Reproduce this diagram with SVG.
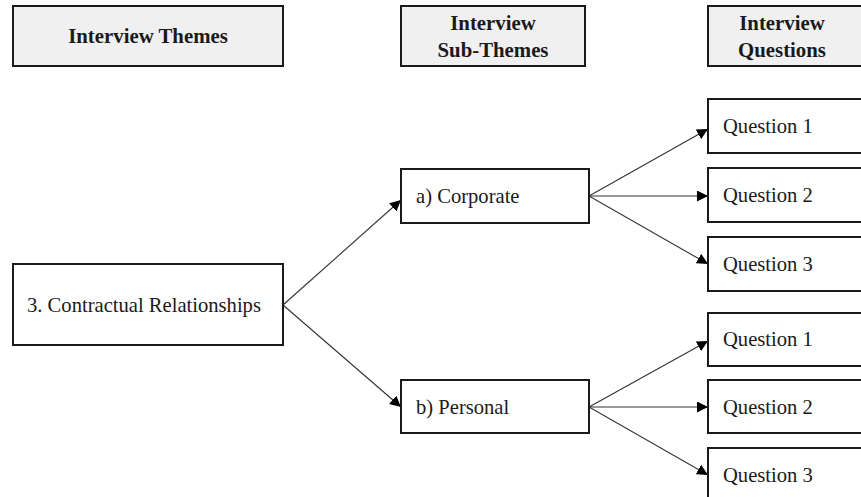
<svg xmlns="http://www.w3.org/2000/svg" width="861" height="497" viewBox="0 0 861 497">
  <style>
    .hdr rect { fill: #f0f0f0; stroke: #1a1a1a; stroke-width: 2; }
    .hdr text { font-family: "Liberation Serif", "Times New Roman", serif; font-weight: bold; font-size: 20.8px; fill: #1a1a1a; text-anchor: middle; }
    .node rect { fill: #ffffff; stroke: #1a1a1a; stroke-width: 2; }
    .node text { font-family: "Liberation Serif", "Times New Roman", serif; font-size: 20.6px; fill: #1a1a1a; }
    .edge { stroke: #333333; stroke-width: 1.1; fill: none; marker-end: url(#arrow); }
  </style>
  <defs>
    <marker id="arrow" viewBox="0 0 10 10" refX="10" refY="5" markerWidth="11" markerHeight="11" markerUnits="userSpaceOnUse" orient="auto">
      <path d="M0,0 L10,5 L0,10 Z" fill="#000000"/>
    </marker>
  </defs>
  <rect width="861" height="497" fill="#ffffff"/>

  <!-- column headers -->
  <g id="hdr-themes" class="hdr">
    <rect x="13" y="6" width="270" height="60"/>
    <text x="148" y="43">Interview Themes</text>
  </g>
  <g id="hdr-subthemes" class="hdr">
    <rect x="401" y="6" width="184" height="60"/>
    <text x="493" y="30">Interview</text>
    <text x="493" y="57">Sub-Themes</text>
  </g>
  <g id="hdr-questions" class="hdr">
    <rect x="708" y="6" width="170" height="60"/>
    <text x="782" y="30">Interview</text>
    <text x="782" y="57">Questions</text>
  </g>

  <!-- connectors -->
  <g id="connectors">
    <line class="edge" x1="283" y1="305" x2="401" y2="200"/>
    <line class="edge" x1="283" y1="305" x2="401" y2="407"/>
    <line class="edge" x1="589" y1="196" x2="708" y2="129"/>
    <line class="edge" x1="589" y1="196" x2="708" y2="196"/>
    <line class="edge" x1="589" y1="196" x2="708" y2="264"/>
    <line class="edge" x1="589" y1="407" x2="708" y2="341"/>
    <line class="edge" x1="589" y1="407" x2="708" y2="407"/>
    <line class="edge" x1="589" y1="407" x2="708" y2="475"/>
  </g>

  <!-- theme -->
  <g id="theme-3" class="node">
    <rect x="13" y="264" width="270" height="81"/>
    <text x="27" y="312">3. Contractual Relationships</text>
  </g>

  <!-- sub-themes -->
  <g id="sub-corporate" class="node">
    <rect x="401" y="169" width="188" height="54"/>
    <text x="416" y="203">a) Corporate</text>
  </g>
  <g id="sub-personal" class="node">
    <rect x="401" y="380" width="188" height="53"/>
    <text x="416" y="414">b) Personal</text>
  </g>

  <!-- questions, corporate -->
  <g id="corp-q1" class="node">
    <rect x="708" y="99" width="170" height="54"/>
    <text x="723" y="133">Question 1</text>
  </g>
  <g id="corp-q2" class="node">
    <rect x="708" y="168" width="170" height="54"/>
    <text x="723" y="202">Question 2</text>
  </g>
  <g id="corp-q3" class="node">
    <rect x="708" y="237" width="170" height="54"/>
    <text x="723" y="271">Question 3</text>
  </g>

  <!-- questions, personal -->
  <g id="pers-q1" class="node">
    <rect x="708" y="313" width="170" height="53"/>
    <text x="723" y="346">Question 1</text>
  </g>
  <g id="pers-q2" class="node">
    <rect x="708" y="380" width="170" height="53"/>
    <text x="723" y="414">Question 2</text>
  </g>
  <g id="pers-q3" class="node">
    <rect x="708" y="448" width="170" height="60"/>
    <text x="723" y="482">Question 3</text>
  </g>
</svg>
